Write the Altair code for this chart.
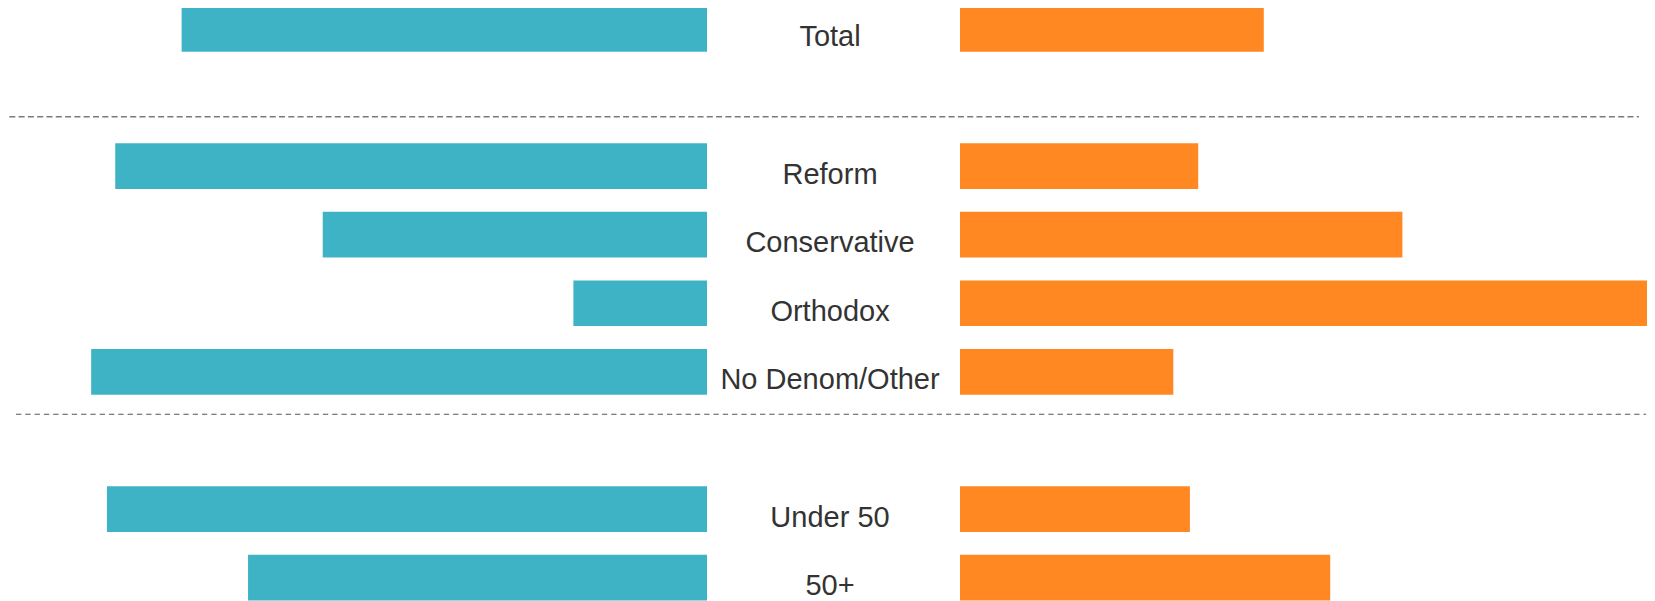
import altair as alt
import pandas as pd

# Data
categories = ["Total", "Reform", "Conservative", "Orthodox", "No Denom/Other", "Under 50", "50+"]
left_values = [63.3, 71.3, 46.3, 16.1, 74.2, 72.3, 55.3]
right_values = [36.6, 28.7, 53.3, 83.2, 25.7, 27.7, 44.6]
row_order = ["Total", " ", "Reform", "Conservative", "Orthodox", "No Denom/Other", "  ", "Under 50", "50+"]

GAP = 15.24  # half width of the label column, in value units

df = pd.DataFrame({"category": categories, "left": left_values, "right": right_values})

x_scale = alt.Scale(domain=[-99.46, 98.01], nice=False, zero=False)
y_scale = alt.Scale(domain=row_order, range=[-2, 592.5], paddingInner=0.334, paddingOuter=0)

base = alt.Chart(df).transform_calculate(
    l0=f"-{GAP} - datum.left",
    l1=f"-{GAP}",
    r0=f"{GAP}",
    r1=f"{GAP} + datum.right",
    c="0",
)

left_bars = base.mark_bar(color="#3FB3C6").encode(
    x=alt.X("l0:Q", scale=x_scale, axis=None),
    x2="l1:Q",
    y=alt.Y("category:N", scale=y_scale, axis=None),
)

right_bars = base.mark_bar(color="#FF8822").encode(
    x=alt.X("r0:Q", scale=x_scale, axis=None),
    x2="r1:Q",
    y=alt.Y("category:N", scale=y_scale, axis=None),
)

labels = base.mark_text(
    font="Liberation Sans", fontSize=29, color="#333333",
    baseline="alphabetic", align="center", dy=17.5, dx=-3.5,
).encode(
    x=alt.X("c:Q", scale=x_scale, axis=None),
    y=alt.Y("category:N", scale=y_scale, axis=None),
    text="category:N",
)

sep_df = pd.DataFrame({"sep": [1]})
sep1 = alt.Chart(sep_df).mark_rule(color="#7a7a7a", strokeWidth=1.6, strokeDash=[6, 3.3]).encode(
    x=alt.value(1.3), x2=alt.value(1631), y=alt.value(108.7)
)
sep2 = alt.Chart(sep_df).mark_rule(color="#555555", strokeWidth=1.1, strokeDash=[5.3, 4]).encode(
    x=alt.value(8), x2=alt.value(1638), y=alt.value(406.3)
)

chart = alt.layer(left_bars, right_bars, labels, sep1, sep2).properties(
    width=1639,
    height=593,
    autosize=alt.AutoSizeParams(type="none"),
    padding={"top": 0, "left": 0, "right": 0, "bottom": 0},
).configure_view(stroke=None)

chart.save("out.html", embed_options={"renderer": "svg", "actions": False})
